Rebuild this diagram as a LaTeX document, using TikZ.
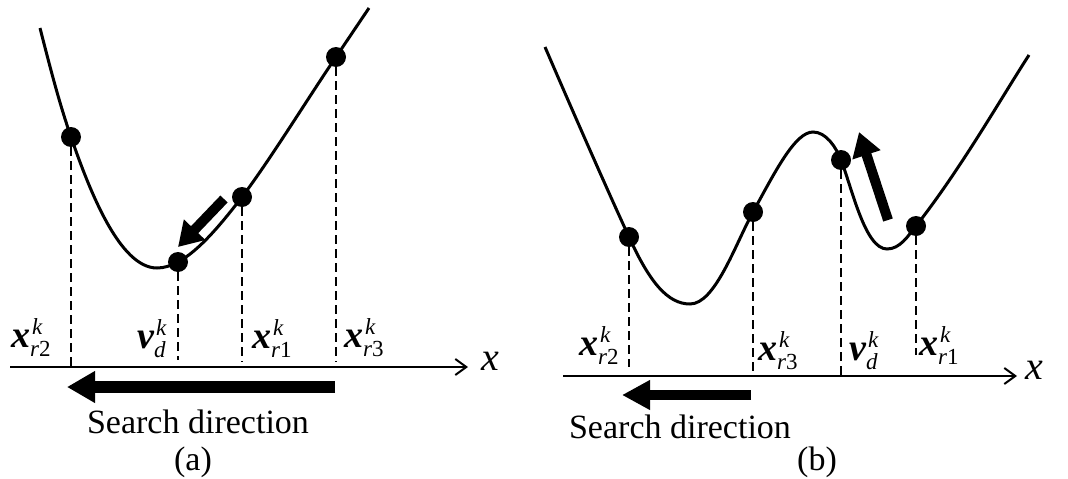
\documentclass[tikz,border=0pt]{standalone}
\usepackage{fontspec}
\setmainfont{Liberation Serif}
\usetikzlibrary{arrows.meta}
\newcommand\vlab[3]{{\fontsize{38}{40}\selectfont\bfseries\itshape #1}{\fontsize{23}{24}\selectfont\itshape\rlap{\kern2pt\raisebox{13pt}{#2}}\raisebox{-9pt}{#3}}}
\tikzset{
  dot/.style={circle,fill=black,inner sep=0pt,minimum size=20pt},
  curve/.style={line width=3pt},
  guide/.style={line width=2.5pt,dash pattern=on 9pt off 5pt},
  axis/.style={line width=2pt,-{Straight Barb[length=11pt,width=16pt,line width=2pt]}},
  fat/.style={line width=12pt,-{Triangle[length=28pt,width=30pt]}},
  slim/.style={line width=10pt,-{Triangle[length=24pt,width=28pt]}},
  lab/.style={inner sep=0pt,anchor=base west},
  axlab/.style={font=\fontsize{40}{42}\selectfont\itshape,inner sep=0pt},
  txt/.style={font=\fontsize{34}{38}\selectfont,inner sep=0pt},
}
\begin{document}
\begin{tikzpicture}[x=1pt,y=-1pt]
\useasboundingbox (0,0) rectangle (1068,479);
% ---------- panel (a)
\coordinate (as) at (40,28);
\coordinate (amin) at (157,268);
\coordinate (ae) at (369,8);
\coordinate (a1) at (71,137);
\coordinate (a2) at (178,262);
\coordinate (a3) at (242,197);
\coordinate (a4) at (336,57);
\draw[curve] (as) .. controls (52,75) and (60,105) .. (a1)
  .. controls (90,192) and (120,268) .. (amin)
  .. controls (185,268) and (215,232) .. (a3)
  .. controls (270,160) and (310,95) .. (a4) -- (ae);
\node[dot] (da1) at (a1) {};
\node[dot] (da2) at (a2) {};
\node[dot] (da3) at (a3) {};
\node[dot] (da4) at (a4) {};
\coordinate (axa0) at (10,367);
\coordinate (axa1) at (468,367);
\coordinate (ea2) at (178,360);
\coordinate (ea3) at (242,362);
\coordinate (ea4) at (336,362);
\draw[guide] (da1) -- (da1 |- axa0);
\draw[guide] (da2) -- (ea2);
\draw[guide] (da3) -- (ea3);
\draw[guide] (da4) -- (ea4);
\draw[axis] (axa0) -- (axa1);
\node[axlab] (xa) at (490,361) {x};
\node[lab] (la1) at (11,347) {\vlab{x}{k}{r\upshape 2}};
\node[lab] (la2) at (137,348) {\vlab{v}{k}{d}};
\node[lab] (la3) at (252,348) {\vlab{x}{k}{r\upshape 1}};
\node[lab] (la4) at (344,347) {\vlab{x}{k}{r\upshape 3}};
\coordinate (sa0) at (335,387);
\coordinate (sa1) at (67,387);
\draw[fat] (sa0) -- (sa1);
\coordinate (ta0) at (224,199);
\coordinate (ta1) at (178,247);
\draw[slim] (ta0) -- (ta1);
\node[txt] (sda) at (198,422) {Search direction};
\node[txt] (capa) at (193,462) {(a)};
% ---------- panel (b)
\coordinate (bs) at (545,47);
\coordinate (bmin) at (690,304);
\coordinate (bpk) at (813,132);
\coordinate (bmin2) at (887,249);
\coordinate (be) at (1029,55);
\coordinate (b1) at (629,237);
\coordinate (b2) at (753,212);
\coordinate (b3) at (841,160);
\coordinate (b4) at (916,226);
\draw[curve] (bs) .. controls (570,105) and (605,185) .. (b1)
  .. controls (650,283) and (668,304) .. (bmin)
  .. controls (715,304) and (735,245) .. (b2)
  .. controls (775,172) and (795,132) .. (bpk)
  .. controls (826,132) and (836,147) .. (b3)
  .. controls (852,188) and (865,249) .. (bmin2)
  .. controls (900,249) and (908,236) .. (b4)
  .. controls (960,170) and (1000,100) .. (be);
\node[dot] (db1) at (b1) {};
\node[dot] (db2) at (b2) {};
\node[dot] (db3) at (b3) {};
\node[dot] (db4) at (b4) {};
\coordinate (axb0) at (563,376);
\coordinate (axb1) at (1017,376);
\coordinate (eb1) at (629,367);
\coordinate (eb4) at (916,355);
\draw[guide] (db1) -- (eb1);
\draw[guide] (db2) -- (db2 |- axb0);
\draw[guide] (db3) -- (db3 |- axb0);
\draw[guide] (db4) -- (eb4);
\draw[axis] (axb0) -- (axb1);
\node[axlab] (xb) at (1034,370) {x};
\node[lab] (lb1) at (579,355) {\vlab{x}{k}{r\upshape 2}};
\node[lab] (lb2) at (758,360) {\vlab{x}{k}{r\upshape 3}};
\node[lab] (lb3) at (849,360) {\vlab{v}{k}{d}};
\node[lab] (lb4) at (919,355) {\vlab{x}{k}{r\upshape 1}};
\coordinate (sb0) at (751,395);
\coordinate (sb1) at (622,395);
\draw[slim,-{Triangle[length=28pt,width=28pt]}] (sb0) -- (sb1);
\coordinate (tb0) at (888,220);
\coordinate (tb1) at (859,132);
\draw[slim] (tb0) -- (tb1);
\node[txt] (sdb) at (680,427) {Search direction};
\node[txt] (capb) at (817,462) {(b)};
\end{tikzpicture}
\end{document}
